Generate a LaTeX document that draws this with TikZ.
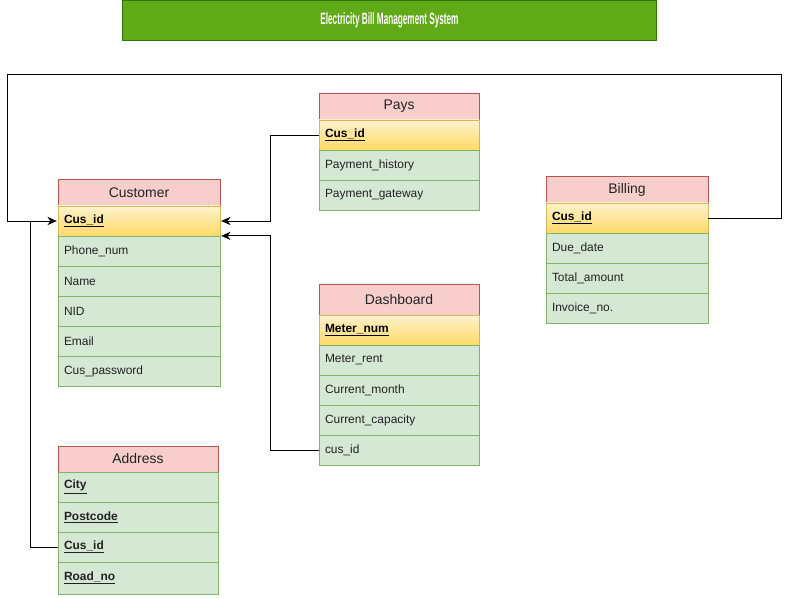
\documentclass[tikz,border=0pt]{standalone}
\usepackage{fontspec}
\setmainfont{Liberation Sans}
\usetikzlibrary{arrows,arrows.meta,positioning,calc}
\definecolor{hdfill}{HTML}{F8CECC}
\definecolor{hdline}{HTML}{B85450}
\definecolor{rowfill}{HTML}{D5E8D4}
\definecolor{rowline}{HTML}{82B366}
\definecolor{keytop}{HTML}{FFF2CC}
\definecolor{keybot}{HTML}{FFD966}
\definecolor{keyline}{HTML}{D6B656}
\definecolor{titlefill}{HTML}{60A917}
\definecolor{titleline}{HTML}{2D7600}
\definecolor{darktext}{HTML}{222222}
\tikzset{tblhead/.style={draw=hdline, fill=hdfill, minimum width=4.8cm, minimum height=0.81cm, outer sep=0pt, font=\fontsize{11.9}{13}\selectfont, text=darktext}}
\tikzset{tblkey/.style={draw=keyline, top color=keytop, bottom color=keybot, minimum width=4.8cm, minimum height=0.9cm, text width=4.44cm, inner xsep=0.18cm, align=left, outer sep=0pt, font=\fontsize{10.2}{12}\selectfont\bfseries}}
\tikzset{tblrow/.style={draw=rowline, fill=rowfill, minimum width=4.8cm, minimum height=0.9cm, text width=4.44cm, inner xsep=0.18cm, align=left, outer sep=0pt, font=\fontsize{10.2}{12}\selectfont, text=darktext}}
\begin{document}
\begin{tikzpicture}[x=0.03cm, y=-0.03cm, >={Stealth[length=8pt,width=7pt,inset=2.5pt]}, node distance=0pt, thick]
\useasboundingbox (0,0) rectangle (790,598);
% title
\node[draw=titleline, fill=titlefill, minimum width=16.02cm, minimum height=1.2cm, anchor=north west, text=white, font=\fontsize{14}{16}\selectfont\bfseries] (title) at (122,0) {\scalebox{0.5}[1]{Electricity Bill Management System}};
% Customer
\node[tblhead, minimum width=4.86cm, anchor=north west] (cusH) at (58,179) {Customer};
\node[tblkey, below=of cusH, text width=4.5cm] (cusK) {\underline{Cus\_id}};
\node[tblrow, below=of cusK, text width=4.5cm] (cus1) {Phone\_num};
\node[tblrow, below=of cus1, text width=4.5cm] (cus2) {Name};
\node[tblrow, below=of cus2, text width=4.5cm] (cus3) {NID};
\node[tblrow, below=of cus3, text width=4.5cm] (cus4) {Email};
\node[tblrow, below=of cus4, text width=4.5cm] (cus5) {Cus\_password};
% Pays
\node[tblhead, anchor=north west] (paysH) at (319,93) {Pays};
\node[tblkey, below=of paysH] (paysK) {\underline{Cus\_id}};
\node[tblrow, below=of paysK] (pays1) {Payment\_history};
\node[tblrow, below=of pays1] (pays2) {Payment\_gateway};
% Billing
\node[tblhead, minimum width=4.86cm, anchor=north west] (bilH) at (546,176) {Billing};
\node[tblkey, below=of bilH, text width=4.5cm] (bilK) {\underline{Cus\_id}};
\node[tblrow, below=of bilK, text width=4.5cm] (bil1) {Due\_date};
\node[tblrow, below=of bil1, text width=4.5cm] (bil2) {Total\_amount};
\node[tblrow, below=of bil2, text width=4.5cm] (bil3) {Invoice\_no.};
% Dashboard
\node[tblhead, minimum height=0.93cm, anchor=north west] (dashH) at (319,284) {Dashboard};
\node[tblkey, below=of dashH] (dashK) {\underline{Meter\_num}};
\node[tblrow, below=of dashK] (dash1) {Meter\_rent};
\node[tblrow, below=of dash1] (dash2) {Current\_month};
\node[tblrow, below=of dash2] (dash3) {Current\_capacity};
\node[tblrow, below=of dash3] (dash4) {cus\_id};
% Address
\node[tblhead, minimum height=0.78cm, anchor=north west] (adrH) at (58,446) {Address};
\node[tblrow, below=of adrH, font=\fontsize{10.2}{12}\selectfont\bfseries] (adr1) {\underline{City}};
\node[tblrow, below=of adr1, font=\fontsize{10.2}{12}\selectfont\bfseries] (adr2) {\underline{Postcode}};
\node[tblrow, below=of adr2, font=\fontsize{10.2}{12}\selectfont\bfseries] (adr3) {\underline{Cus\_id}};
\node[tblrow, below=of adr3, minimum height=0.96cm, font=\fontsize{10.2}{12}\selectfont\bfseries] (adr4) {\underline{Road\_no}};
% links
\coordinate (loopR) at (781,74);
\coordinate (loopL) at (7,74);
\draw[->, shorten >=1pt] (bilK.east) -| (loopR) -- (loopL) |- (cusK.west);
\draw[->, shorten >=1pt] (paysK.west) -- ++(-49,0) |- (cusK.east);
\draw[->, shorten >=1pt] (dash4.west) -- ++(-49,0) |- ($(cusK.south east)+(0,-0.12)$);
\draw (adr3.west) -| ($(cusK.west)+(-28,0)$);
\end{tikzpicture}
\end{document}
